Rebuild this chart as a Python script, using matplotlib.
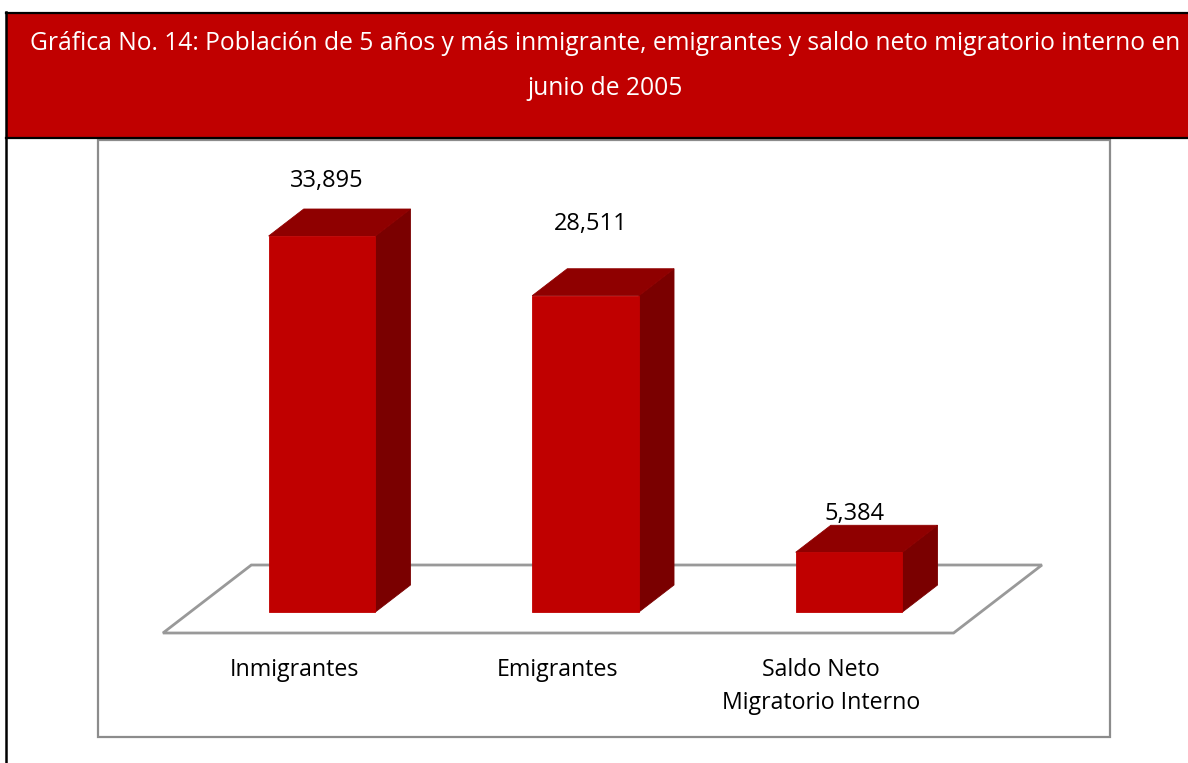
import numpy as np
import matplotlib
matplotlib.use("Agg")
import matplotlib.pyplot as plt
from matplotlib.patches import Polygon, Rectangle

# datos de la gráfica
categorias = ["Inmigrantes", "Emigrantes", "Saldo Neto\nMigratorio Interno"]
valores = [33895, 28511, 5384]
titulo = ("Gráfica No. 14: Población de 5 años y más inmigrante, emigrantes y saldo neto migratorio interno en\n"
          "junio de 2005")

# estilo
ROJO = "#C00000"
ROJO_TOP = "#8F0000"
ROJO_LADO = "#7A0000"
GRIS = "#8C8C8C"
FONT = ["Open Sans", "DejaVu Sans"]
W, H, DPI = 1188, 763, 100

# desplazamientos de etiquetas (px) - ajuste de layout
label_dy_px = [55, 72, 38]

fig = plt.figure(figsize=(W / DPI, H / DPI), dpi=DPI)

# fondo: banda de título y marcos (coordenadas en pixeles de figura)
bg = fig.add_axes([0, 0, 1, 1])
bg.set_xlim(0, W)
bg.set_ylim(H, 0)
bg.axis("off")
bg.add_patch(Rectangle((6, 12), W, 126, facecolor=ROJO, edgecolor="none"))
bg.plot([6, W], [12.5, 12.5], color="black", lw=1.6)
bg.plot([6, W], [138, 138], color="black", lw=1.6)
bg.plot([6, 6], [12, H], color="black", lw=1.8)
bg.add_patch(Rectangle((98, 139.5), 1012, 597.5, facecolor="none", edgecolor=GRIS, lw=1.6))

t = bg.text(605, 66, titulo, color="white", ha="center", va="center",
            fontsize=18, family=FONT, linespacing=2.05)
fig.canvas.draw()
ancho = t.get_window_extent().width
t.set_fontsize(18 * 1150 / ancho)

# ejes de datos: base de barras en y=612 px, arriba en y=140 px
base_px, top_px = 612, 140
ax = fig.add_axes([98 / W, (H - base_px) / H, 1012 / W, (base_px - top_px) / H])
ax.set_xlim(-0.85, 2.99)
ax.set_ylim(0, 42550)
ax.axis("off")

ux = (2.99 + 0.85) / 1012            # unidades x por px
uy = 42550 / (base_px - top_px)      # unidades y por px


def prof(tpx):
    # desplazamiento de profundidad (px hacia atrás) en unidades de datos
    return 1.3 * tpx * ux, tpx * uy


x = np.arange(len(valores))
ancho_barra = 0.405
fondo_barra = 27

# piso
f0x, f0y = prof(-21)
f1x, f1y = prof(47)
piso = [(-0.5 + f0x, f0y), (2.5 + f0x, f0y), (2.5 + f1x, f1y), (-0.5 + f1x, f1y)]
ax.add_patch(Polygon(piso, closed=True, facecolor="white", edgecolor="#999999",
                     lw=2, clip_on=False, zorder=1))

dx, dy = prof(fondo_barra)
for xi, v, ldy in zip(x, valores, label_dy_px):
    x0, x1 = xi - ancho_barra / 2, xi + ancho_barra / 2
    lado = [(x1, 0), (x1 + dx, dy), (x1 + dx, v + dy), (x1, v)]
    tapa = [(x0, v), (x1, v), (x1 + dx, v + dy), (x0 + dx, v + dy)]
    ax.add_patch(Polygon(lado, closed=True, facecolor=ROJO_LADO, edgecolor=ROJO_LADO,
                         lw=0.6, clip_on=False, zorder=2))
    ax.add_patch(Polygon(tapa, closed=True, facecolor=ROJO_TOP, edgecolor=ROJO_TOP,
                         lw=0.6, clip_on=False, zorder=2))
    ax.add_patch(Rectangle((x0, 0), ancho_barra, v, facecolor=ROJO, edgecolor=ROJO,
                           lw=0.6, clip_on=False, zorder=3))
    ax.annotate(f"{v:,}", (xi, v), xytext=(5 * 0.72, ldy * 0.72), textcoords="offset points",
                ha="center", va="center", fontsize=17, family=FONT, color="black",
                annotation_clip=False)

for xi, cat in zip(x, categorias):
    ax.annotate(cat, (xi, 0), xytext=(-28 * 0.72, -46 * 0.72), textcoords="offset points",
                ha="center", va="top", fontsize=16.7, family=FONT, color="black",
                linespacing=1.5, annotation_clip=False)

fig.savefig("out.png", dpi=DPI)
